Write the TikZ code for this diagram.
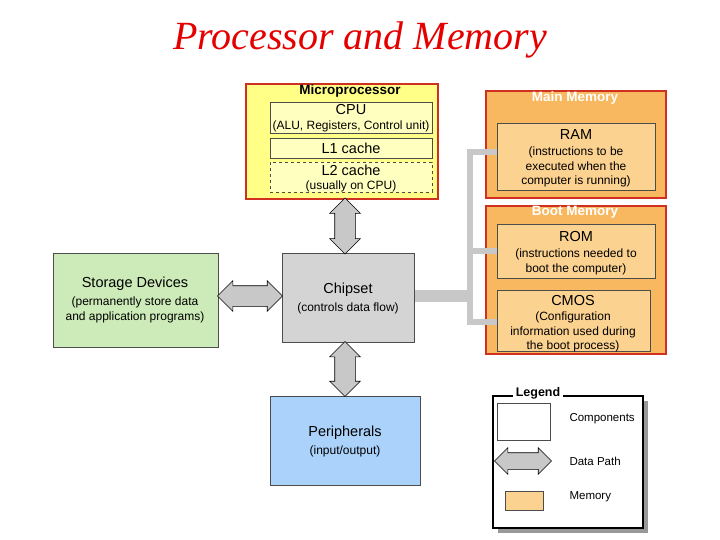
\documentclass[tikz,border=0pt]{standalone}
\usepackage{fontspec}
\setmainfont{Liberation Sans}
\newfontfamily\titlefont{Liberation Serif}
\usetikzlibrary{shapes.arrows}
\definecolor{boxred}{HTML}{D03020}
\definecolor{cpuyel}{HTML}{FFFF88}
\definecolor{cpuin}{HTML}{FFFFC0}
\definecolor{memor}{HTML}{F8B860}
\definecolor{memin}{HTML}{FCD290}
\definecolor{storgr}{HTML}{CCEBB8}
\definecolor{chipgr}{HTML}{D4D4D4}
\definecolor{perbl}{HTML}{AAD2FA}
\definecolor{pathgr}{HTML}{C8C8C8}
\tikzset{
  px/.style={x=1pt,y=-1pt},
  outer/.style={draw=boxred,line width=2pt,inner sep=0,anchor=north west},
  comp/.style={draw=black!70,line width=0.5pt,inner sep=0,anchor=north west},
  big/.style={font=\fontsize{14.5}{16}\selectfont},
  small/.style={font=\fontsize{12}{14.5}\selectfont},
  head/.style={font=\bfseries\fontsize{13.5}{15}\selectfont},
  path/.style={double arrow,draw=black,fill=pathgr,line width=0.6pt,
    inner xsep=0pt,inner ysep=10pt,double arrow head extend=5pt,minimum width=0pt},
  link/.style={draw=pathgr,line cap=butt},
}
\begin{document}
\begin{tikzpicture}[px]
\useasboundingbox (0,0) rectangle (720,540);
\node[font=\titlefont\itshape\fontsize{40}{44}\selectfont,text=red!90!black] (title) at (360,40) {Processor and Memory};

% microprocessor
\node[outer,fill=cpuyel,minimum width=192pt,minimum height=115pt] (mp) at (245,83) {};
\node[head] (mpt) at (350,91) {Microprocessor};
\node[comp,fill=cpuin,minimum width=162pt,minimum height=31pt] (cpu) at (270,102) {};
\node[big] (cput) at (351,110) {CPU};
\node[small] (cpus) at (351,126) {(ALU, Registers, Control unit)};
\node[comp,fill=cpuin,minimum width=162pt,minimum height=20pt] (l1) at (270,138) {};
\node[big] (l1t) at (351,148) {L1 cache};
\node[comp,dashed,fill=cpuin,minimum width=162pt,minimum height=30pt] (l2) at (270,162) {};
\node[big] (l2t) at (351,170) {L2 cache};
\node[small] (l2s) at (351,186) {(usually on CPU)};

% main memory
\node[outer,fill=memor,minimum width=180pt,minimum height=107pt] (mm) at (485,90) {};
\node[head,text=white] (mmt) at (575,98) {Main Memory};
\node[comp,fill=memin,minimum width=158pt,minimum height=67pt] (ram) at (497,123) {};
\node[big] (ramt) at (576,135) {RAM};
\node[small,align=center] (rams) at (576,167) {(instructions to be\\executed when the\\computer is running)};

% boot memory
\node[outer,fill=memor,minimum width=180pt,minimum height=148pt] (bm) at (485,205) {};
\node[head,text=white] (bmt) at (575,212) {Boot Memory};
\node[comp,fill=memin,minimum width=158pt,minimum height=54pt] (rom) at (497,224) {};
\node[big] (romt) at (576,237) {ROM};
\node[small,align=center] (roms) at (576,262) {(instructions needed to\\boot the computer)};
\node[comp,fill=memin,minimum width=153pt,minimum height=61pt] (cmos) at (497,290) {};
\node[big] (cmost) at (573,301) {CMOS};
\node[small,align=center] (cmoss) at (573,332) {(Configuration\\information used during\\the boot process)};

% storage, chipset, peripherals
\node[comp,fill=storgr,minimum width=165pt,minimum height=94pt] (st) at (53,253) {};
\node[big] (stt) at (135,284) {Storage Devices};
\node[small,align=center] (sts) at (135,310) {(permanently store data\\and application programs)};
\node[comp,fill=chipgr,minimum width=132pt,minimum height=89pt] (cs) at (282,253) {};
\node[big] (cst) at (348,290) {Chipset};
\node[small] (css) at (348,308) {(controls data flow)};
\node[comp,fill=perbl,minimum width=150pt,minimum height=89pt] (pe) at (270,396) {};
\node[big] (pet) at (345,433) {Peripherals};
\node[small] (pes) at (345,451) {(input/output)};

% data paths
\node[path,rotate=90,minimum height=56pt] (a1) at (345,226) {};
\node[path,rotate=90,minimum height=55pt] (a2) at (345,369) {};
\node[path,minimum height=65pt] (a3) at (250,296) {};

% memory bus
\coordinate (bus) at (470,296);
\draw[link,line width=12pt] (cs.east |- bus) -- ([xshift=3pt]bus);
\draw[link,line width=6pt] (470,149) -- (470,325);
\draw[link,line width=6pt] (467,152) -- (ram.west |- 0,152);
\draw[link,line width=6pt] (467,251) -- (rom.west |- 0,251);
\draw[link,line width=6pt] (467,322) -- (cmos.west |- 0,322);

% legend
\fill[black!40] (498,401) rectangle (648,533);
\node[draw=black,line width=1.5pt,fill=white,minimum width=150pt,minimum height=132pt,inner sep=0,anchor=north west] (lg) at (492,395) {};
\node[head,fill=white,font=\bfseries\fontsize{12.5}{14}\selectfont,inner sep=3pt] (lgt) at (538,393) {Legend};
\node[comp,fill=white,minimum width=53pt,minimum height=37pt] (lc) at (497,403) {};
\node[small,anchor=west,font=\fontsize{11.5}{13}\selectfont] (lct) at (566,419) {Components};
\node[path,minimum height=57pt,inner ysep=8pt] (ld) at (523,461) {};
\node[small,anchor=west,font=\fontsize{11.5}{13}\selectfont] (ldt) at (566,461) {Data Path};
\node[comp,fill=memin,minimum width=38pt,minimum height=19pt] (lm) at (505,491) {};
\node[small,anchor=west,font=\fontsize{11.5}{13}\selectfont] (lmt) at (566,497) {Memory};
\end{tikzpicture}
\end{document}
